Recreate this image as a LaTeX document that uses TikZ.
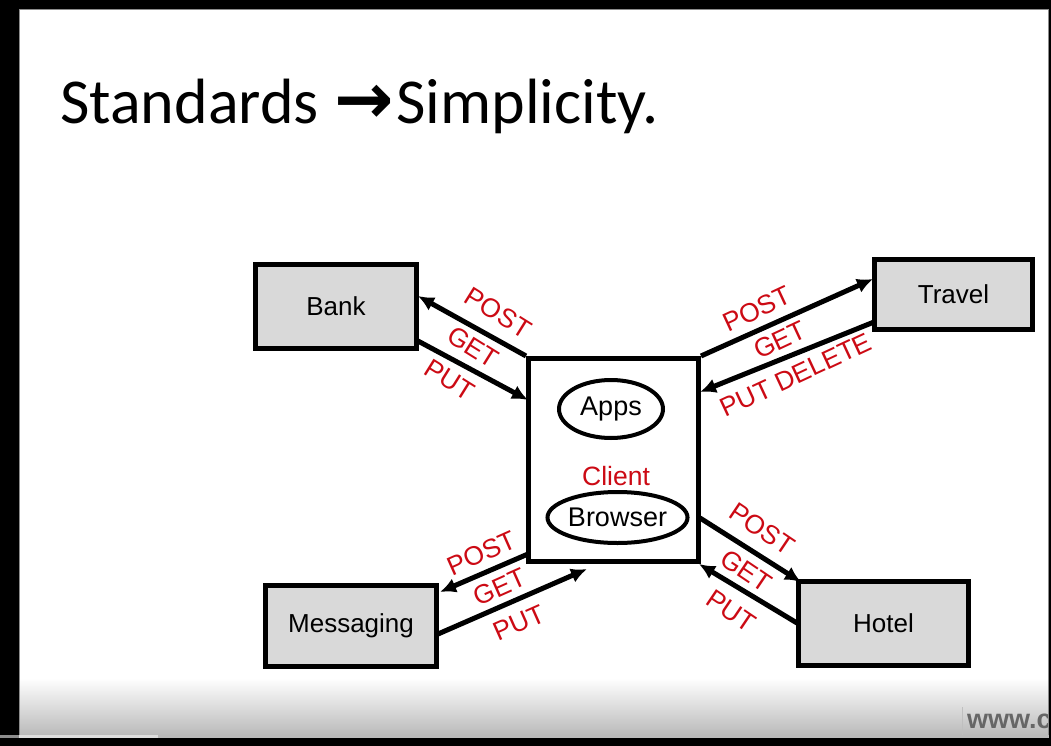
\documentclass[tikz,border=0pt]{standalone}
\usepackage{fontspec}
\setmainfont{Liberation Sans}
\newfontfamily\titlefont{Carlito}
\newfontfamily\symfont{DejaVu Sans}
\usetikzlibrary{shapes.geometric,arrows.meta}
\definecolor{lblred}{RGB}{204,10,20}
\definecolor{boxgray}{RGB}{217,217,217}
\tikzset{
  box/.style={draw=black,line width=5pt,fill=boxgray,inner sep=0pt,font=\fontsize{26}{29}\selectfont},
  oval/.style={ellipse,draw=black,line width=4pt,inner sep=0pt,font=\fontsize{27}{30}\selectfont},
  conn/.style={line width=5pt,-{Latex[length=16pt,width=15pt]}},
  lbl/.style={text=lblred,inner sep=0pt,font=\fontsize{26.5}{29}\selectfont}
}
\begin{document}
\begin{tikzpicture}[x=1pt,y=-1pt]
\useasboundingbox (0,0) rectangle (1051,746);
% slide background
\fill[white] (0,0) rectangle (1051,746);
\shade[top color=white,bottom color=black!27] (19,678) rectangle (1049,735);
% watermark
\draw[black!25,line width=1pt] (962,707) -- (962,735);
\node[anchor=base west,inner sep=0pt,text=black!60,font=\bfseries\fontsize{27}{30}\selectfont] (wm) at (967,728) {www.c};
% frame
\fill[black] (0,0) rectangle (1051,9);
\fill[black!45] (19,9) rectangle (1049,10);
\fill[black] (0,0) rectangle (19,746);
\fill[black!45] (19,10) rectangle (20,735);
\fill[black] (1049,0) rectangle (1051,746);
\fill[black!45] (1048,10) rectangle (1049,735);
\fill[black!45] (0,735) rectangle (19,738);
\fill[black!13] (19,735) rectangle (158,738);
\fill[black!27] (158,735) rectangle (1049,738);
\fill[black] (0,738) rectangle (1051,746);
% title
\node[anchor=base west,inner sep=0pt,font=\titlefont\fontsize{64}{72}\selectfont] (title) at (60,124)
  {Standards\kern16pt{\symfont\bfseries\fontsize{71}{72}\selectfont →}\kern2pt Simplicity.};
% nodes
\node[box,minimum width=161pt,minimum height=84pt] (bank) at (336,306.5) {Bank};
\node[box,minimum width=158pt,minimum height=70pt] (travel) at (953.5,294.5) {Travel};
\node[box,minimum width=171pt,minimum height=81pt] (msg) at (351,626) {Messaging};
\node[box,minimum width=170pt,minimum height=84pt] (hotel) at (883.5,623.5) {Hotel};
\node[draw=black,line width=5pt,fill=white,minimum width=170pt,minimum height=203pt,inner sep=0pt] (client) at (613.5,460) {};
\node[oval,minimum width=104pt,minimum height=58pt] (apps) at (611,409) {Apps};
\node[oval,minimum width=131pt,minimum height=51pt] (browser) at (617.5,517.5) {Browser};
\node[lbl] (clientlbl) at (616,476) {Client};
% connector end points
\coordinate (bA) at (418,296);
\coordinate (bB) at (418,341);
\coordinate (bC) at (528,400);
\coordinate (tA) at (873,279);
\coordinate (tB) at (874,322);
\coordinate (tC) at (700,392);
\coordinate (mA) at (440,592);
\coordinate (mB) at (438,634);
\coordinate (mC) at (587,569);
\coordinate (hA) at (801,582);
\coordinate (hB) at (797,623);
\coordinate (hC) at (699,564);
\coordinate (hS) at (700,518);
\coordinate (mS) at (528,554);
% connectors
\draw[conn] (client.north west) -- (bA);
\draw[conn] (bB) -- (bC);
\draw[conn] (client.north east) -- (tA);
\draw[conn] (tB) -- (tC);
\draw[conn] (mS) -- (mA);
\draw[conn] (mB) -- (mC);
\draw[conn] (hS) -- (hA);
\draw[conn] (hB) -- (hC);
% labels
\node[lbl,rotate=-32] (bpost) at (498,313) {POST};
\node[lbl,rotate=-32] (bget) at (473,347) {GET};
\node[lbl,rotate=-32] (bput) at (450,380) {PUT};
\node[lbl,rotate=25] (tpost) at (757,309) {POST};
\node[lbl,rotate=25] (tget) at (780,340) {GET};
\node[lbl,rotate=25] (tput) at (796,375) {PUT DELETE};
\node[lbl,rotate=24] (mpost) at (482,553) {POST};
\node[lbl,rotate=24] (mget) at (500,587) {GET};
\node[lbl,rotate=24] (mput) at (519,623) {PUT};
\node[lbl,rotate=-34] (hpost) at (762,529) {POST};
\node[lbl,rotate=-34] (hget) at (746,571) {GET};
\node[lbl,rotate=-34] (hput) at (731,611) {PUT};
\end{tikzpicture}
\end{document}
